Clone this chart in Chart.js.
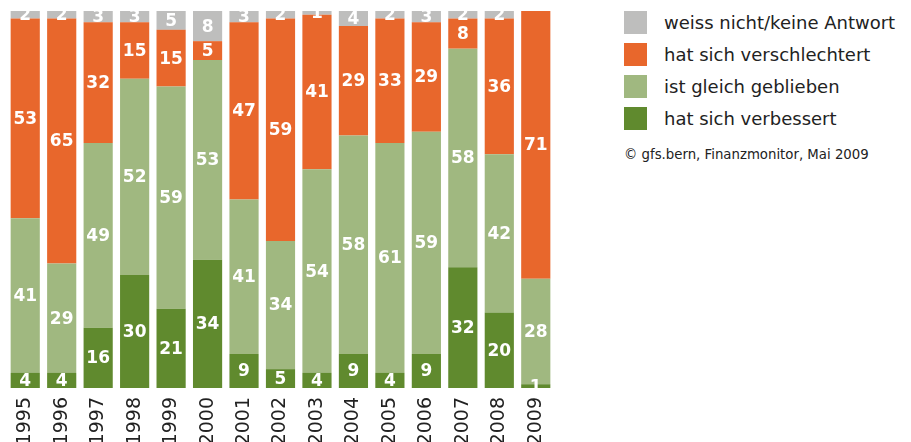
<!DOCTYPE html>
<html>
<head>
<meta charset="utf-8">
<script src="https://cdn.jsdelivr.net/npm/chart.js@4"></script>
<style>
  body { margin: 0; background: #fff; font-family: "DejaVu Sans", sans-serif; }
  #wrap { position: absolute; left: 0; top: 0; width: 562px; height: 442px; }
  #legend { position: absolute; left: 624px; top: 11px; color: #222; }
  .item { display: flex; align-items: center; height: 23px; margin-bottom: 9px; font-size: 18px; white-space: nowrap; }
  .box { width: 23px; height: 23px; margin-right: 17px; flex: none; }
  #source { margin-top: 17px; font-size: 13.3px; color: #222; white-space: nowrap; }
</style>
</head>
<body>
<div id="wrap"><canvas id="chart"></canvas></div>
<div id="legend"></div>

<script>
const years = ['1995', '1996', '1997', '1998', '1999', '2000', '2001', '2002', '2003', '2004', '2005', '2006', '2007', '2008', '2009'];
const verbessert = [4, 4, 16, 30, 21, 34, 9, 5, 4, 9, 4, 9, 32, 20, 1];
const gleich = [41, 29, 49, 52, 59, 53, 41, 34, 54, 58, 61, 59, 58, 42, 28];
const verschlechtert = [53, 65, 32, 15, 15, 5, 47, 59, 41, 29, 33, 29, 8, 36, 71];
const weissNicht = [2, 2, 3, 3, 5, 8, 3, 2, 1, 4, 2, 3, 2, 2, 0];
const sourceNote = '© gfs.bern, Finanzmonitor, Mai 2009';

const series = [
  { label: 'hat sich verbessert', data: verbessert, color: '#608a2e' },
  { label: 'ist gleich geblieben', data: gleich, color: '#a0b880' },
  { label: 'hat sich verschlechtert', data: verschlechtert, color: '#e8672c' },
  { label: 'weiss nicht/keine Antwort', data: weissNicht, color: '#bebebd' }
];

// white numbers in the middle of each segment
const segmentLabels = {
  id: 'segmentLabels',
  afterDatasetsDraw(chart) {
    const ctx = chart.ctx;
    ctx.save();
    ctx.fillStyle = '#fff';
    ctx.font = 'bold 17px "DejaVu Sans", sans-serif';
    ctx.textAlign = 'center';
    ctx.textBaseline = 'middle';
    chart.data.datasets.forEach((ds, i) => {
      chart.getDatasetMeta(i).data.forEach((bar, j) => {
        const v = ds.data[j];
        if (!v) return;
        ctx.fillText(String(v), bar.x, (bar.y + bar.base) / 2 + 1);
      });
    });
    ctx.restore();
  }
};

new Chart(document.getElementById('chart'), {
  type: 'bar',
  data: {
    labels: years,
    datasets: series.map(s => ({
      label: s.label,
      data: s.data,
      backgroundColor: s.color,
      borderWidth: 0
    }))
  },
  options: {
    responsive: true,
    maintainAspectRatio: false,
    animation: false,
    layout: { padding: { top: 11, left: 7, right: 8, bottom: 0 } },
    datasets: { bar: { categoryPercentage: 1, barPercentage: 0.8 } },
    plugins: { legend: { display: false }, tooltip: { enabled: false } },
    scales: {
      x: {
        stacked: true,
        grid: { display: false },
        border: { display: false },
        ticks: {
          minRotation: 90,
          maxRotation: 90,
          padding: 1,
          color: '#222',
          font: { family: '"DejaVu Sans", sans-serif', size: 19 }
        },
        afterFit(scale) { scale.height = 54; }
      },
      y: {
        stacked: true,
        display: false,
        min: 0,
        max: 100
      }
    }
  },
  plugins: [segmentLabels]
});

const legendEl = document.getElementById('legend');
legendEl.innerHTML = series.slice().reverse().map(s => `
  <div class="item"><span class="box" style="background:${s.color}"></span>${s.label}</div>
`).join('') + `<div id="source">${sourceNote}</div>`;
</script>
</body>
</html>
